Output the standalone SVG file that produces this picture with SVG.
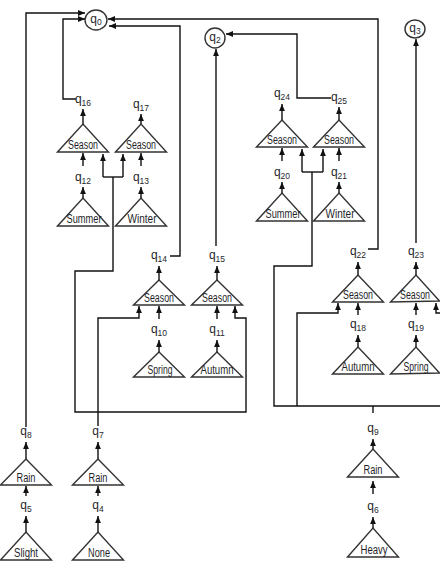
<svg xmlns="http://www.w3.org/2000/svg" width="440" height="568" viewBox="0 0 440 568">
  <defs>
    <marker id="ah" markerWidth="8" markerHeight="8" refX="7" refY="4" orient="auto" markerUnits="userSpaceOnUse">
      <path d="M0,1.1 L7,4 L0,6.9 z" fill="#111"/>
    </marker>
    <style>
      .tri { fill: #fff; stroke: #333; stroke-width: 1.4; }
      .st { fill: #fff; stroke: #333; stroke-width: 1.4; }
      .ln { fill: none; stroke: #111; stroke-width: 1.4; }
      .arr { marker-end: url(#ah); }
      .w { font-family: "Liberation Sans", Arial, sans-serif; font-size: 12.5px; fill: #1f1f2a; text-anchor: middle; }
      .q { font-family: "Liberation Sans", Arial, sans-serif; font-size: 12px; fill: #1f1f2a; text-anchor: middle; }
      .sub { font-size: 8.5px; }
    </style>
  </defs>

  <!-- connectors -->
  <g id="connectors">
    <!-- into q0 -->
    <path class="ln arr" d="M26,427 V13 H85"/>
    <path class="ln arr" d="M76,99 H63 V19 H85"/>
    <path class="ln arr" d="M170,256 H180 V26 H109"/>
    <path class="ln arr" d="M368,249 H378 V19 H108"/>
    <!-- into q2 -->
    <path class="ln arr" d="M216,246 V49"/>
    <path class="ln arr" d="M331,98 H297 V34 H226"/>
    <!-- into q3 -->
    <path class="ln arr" d="M416,243 V39"/>

    <!-- left shared input net -->
    <path class="ln" d="M103,177 H123"/>
    <path class="ln arr" d="M103,177 V154"/>
    <path class="ln arr" d="M123,177 V154"/>
    <path class="ln arr" d="M113,177 V271 H75 V412 H246 V318 H235 V306"/>
    <path class="ln arr" d="M98,426 V318 H139 V306"/>

    <!-- right shared input net -->
    <path class="ln" d="M302,172 H323"/>
    <path class="ln arr" d="M302,172 V149"/>
    <path class="ln arr" d="M323,172 V149"/>
    <path class="ln" d="M312,172 V266 H274 V406 H440"/>
    <path class="ln arr" d="M297,406 V313 H338 V303"/>
    <path class="ln arr" d="M440,313 H436 V303"/>
    <path class="ln" d="M373,406 V413"/>

    <!-- triangle apex to state label -->
    <path class="ln arr" d="M83,124 V109"/>
    <path class="ln arr" d="M141,124 V114"/>
    <path class="ln arr" d="M83,198 V187"/>
    <path class="ln arr" d="M141,198 V187"/>
    <path class="ln arr" d="M282,120 V104"/>
    <path class="ln arr" d="M339,120 V107"/>
    <path class="ln arr" d="M282,193 V182"/>
    <path class="ln arr" d="M339,193 V182"/>
    <path class="ln arr" d="M159,280 V266"/>
    <path class="ln arr" d="M217,280 V266"/>
    <path class="ln arr" d="M159,352 V340"/>
    <path class="ln arr" d="M217,352 V340"/>
    <path class="ln arr" d="M358,275 V262"/>
    <path class="ln arr" d="M416,275 V262"/>
    <path class="ln arr" d="M358,347 V335"/>
    <path class="ln arr" d="M416,347 V335"/>
    <path class="ln arr" d="M26,459 V442"/>
    <path class="ln arr" d="M26,532 V516"/>
    <path class="ln arr" d="M98,459 V442"/>
    <path class="ln arr" d="M98,532 V516"/>
    <path class="ln arr" d="M373,449 V439"/>
    <path class="ln arr" d="M373,528 V517"/>

    <!-- state label to triangle base -->
    <path class="ln arr" d="M83,166 V153"/>
    <path class="ln arr" d="M141,166 V153"/>
    <path class="ln arr" d="M282,161 V148"/>
    <path class="ln arr" d="M339,161 V148"/>
    <path class="ln arr" d="M159,319 V306"/>
    <path class="ln arr" d="M217,319 V306"/>
    <path class="ln arr" d="M358,315 V303"/>
    <path class="ln arr" d="M416,315 V303"/>
    <path class="ln arr" d="M26,496 V486"/>
    <path class="ln arr" d="M98,496 V486"/>
    <path class="ln arr" d="M373,494 V481"/>
  </g>

  <!-- final states -->
  <g id="q0"><ellipse class="st" cx="96" cy="20" rx="11" ry="10"/><text class="q" x="96" y="23">q<tspan class="sub" dy="2">0</tspan></text></g>
  <g id="q2"><ellipse class="st" cx="215" cy="38" rx="10" ry="10"/><text class="q" x="215" y="41">q<tspan class="sub" dy="2">2</tspan></text></g>
  <g id="q3"><ellipse class="st" cx="415" cy="29" rx="10" ry="9"/><text class="q" x="415" y="32">q<tspan class="sub" dy="2">3</tspan></text></g>

  <!-- state labels -->
  <g id="q16"><text class="q" x="83" y="103">q<tspan class="sub" dy="3">16</tspan></text></g>
  <g id="q17"><text class="q" x="141" y="108">q<tspan class="sub" dy="3">17</tspan></text></g>
  <g id="q12"><text class="q" x="83" y="181">q<tspan class="sub" dy="3">12</tspan></text></g>
  <g id="q13"><text class="q" x="141" y="181">q<tspan class="sub" dy="3">13</tspan></text></g>
  <g id="q24"><text class="q" x="282" y="97">q<tspan class="sub" dy="3">24</tspan></text></g>
  <g id="q25"><text class="q" x="339" y="101">q<tspan class="sub" dy="3">25</tspan></text></g>
  <g id="q20"><text class="q" x="282" y="176">q<tspan class="sub" dy="3">20</tspan></text></g>
  <g id="q21"><text class="q" x="339" y="176">q<tspan class="sub" dy="3">21</tspan></text></g>
  <g id="q14"><text class="q" x="159" y="259">q<tspan class="sub" dy="3">14</tspan></text></g>
  <g id="q15"><text class="q" x="217" y="259">q<tspan class="sub" dy="3">15</tspan></text></g>
  <g id="q10"><text class="q" x="159" y="333">q<tspan class="sub" dy="3">10</tspan></text></g>
  <g id="q11"><text class="q" x="217" y="333">q<tspan class="sub" dy="3">11</tspan></text></g>
  <g id="q22"><text class="q" x="358" y="255">q<tspan class="sub" dy="3">22</tspan></text></g>
  <g id="q23"><text class="q" x="416" y="255">q<tspan class="sub" dy="3">23</tspan></text></g>
  <g id="q18"><text class="q" x="358" y="328">q<tspan class="sub" dy="3">18</tspan></text></g>
  <g id="q19"><text class="q" x="416" y="328">q<tspan class="sub" dy="3">19</tspan></text></g>
  <g id="q8"><text class="q" x="26" y="435">q<tspan class="sub" dy="3">8</tspan></text></g>
  <g id="q5"><text class="q" x="26" y="509">q<tspan class="sub" dy="3">5</tspan></text></g>
  <g id="q7"><text class="q" x="98" y="435">q<tspan class="sub" dy="3">7</tspan></text></g>
  <g id="q4"><text class="q" x="98" y="509">q<tspan class="sub" dy="3">4</tspan></text></g>
  <g id="q9"><text class="q" x="373" y="432">q<tspan class="sub" dy="3">9</tspan></text></g>
  <g id="q6"><text class="q" x="373" y="510">q<tspan class="sub" dy="3">6</tspan></text></g>

  <!-- symbol triangles -->
  <g id="season16"><polygon class="tri" points="57.5,152 83,124 108.5,152"/><text class="w" x="83" y="149" textLength="30" lengthAdjust="spacingAndGlyphs">Season</text></g>
  <g id="season17"><polygon class="tri" points="115.5,152 141,124 166.5,152"/><text class="w" x="141" y="149" textLength="30" lengthAdjust="spacingAndGlyphs">Season</text></g>
  <g id="summer12"><polygon class="tri" points="57.5,226 83,198 108.5,226"/><text class="w" x="84" y="223" textLength="35" lengthAdjust="spacingAndGlyphs">Summer</text></g>
  <g id="winter13"><polygon class="tri" points="115.5,226 141,198 166.5,226"/><text class="w" x="142" y="223" textLength="29" lengthAdjust="spacingAndGlyphs">Winter</text></g>
  <g id="season24"><polygon class="tri" points="256.5,147 282,120 307.5,147"/><text class="w" x="282" y="144" textLength="30" lengthAdjust="spacingAndGlyphs">Season</text></g>
  <g id="season25"><polygon class="tri" points="313.5,147 339,120 364.5,147"/><text class="w" x="339" y="144" textLength="30" lengthAdjust="spacingAndGlyphs">Season</text></g>
  <g id="summer20"><polygon class="tri" points="256.5,221 282,193 307.5,221"/><text class="w" x="283" y="218" textLength="35" lengthAdjust="spacingAndGlyphs">Summer</text></g>
  <g id="winter21"><polygon class="tri" points="313.5,221 339,193 364.5,221"/><text class="w" x="340" y="218" textLength="29" lengthAdjust="spacingAndGlyphs">Winter</text></g>
  <g id="season14"><polygon class="tri" points="133.5,305 159,280 184.5,305"/><text class="w" x="159" y="302" textLength="30" lengthAdjust="spacingAndGlyphs">Season</text></g>
  <g id="season15"><polygon class="tri" points="191.5,305 217,280 242.5,305"/><text class="w" x="217" y="302" textLength="30" lengthAdjust="spacingAndGlyphs">Season</text></g>
  <g id="spring10"><polygon class="tri" points="133.5,377 159,352 184.5,377"/><text class="w" x="160" y="374" textLength="25" lengthAdjust="spacingAndGlyphs">Spring</text></g>
  <g id="autumn11"><polygon class="tri" points="191.5,377 217,352 242.5,377"/><text class="w" x="217" y="374" textLength="33" lengthAdjust="spacingAndGlyphs">Autumn</text></g>
  <g id="season22"><polygon class="tri" points="332.5,302 358,275 383.5,302"/><text class="w" x="358" y="299" textLength="30" lengthAdjust="spacingAndGlyphs">Season</text></g>
  <g id="season23"><polygon class="tri" points="390.5,302 416,275 439.5,301"/><text class="w" x="415" y="299" textLength="30" lengthAdjust="spacingAndGlyphs">Season</text></g>
  <g id="autumn18"><polygon class="tri" points="332.5,374 358,347 383.5,374"/><text class="w" x="358" y="371" textLength="33" lengthAdjust="spacingAndGlyphs">Autumn</text></g>
  <g id="spring19"><polygon class="tri" points="390.5,374 416,347 439.5,373"/><text class="w" x="416" y="371" textLength="25" lengthAdjust="spacingAndGlyphs">Spring</text></g>
  <g id="rain8"><polygon class="tri" points="0.5,485 26,459 51.5,485"/><text class="w" x="26" y="482" textLength="19" lengthAdjust="spacingAndGlyphs">Rain</text></g>
  <g id="slight5"><polygon class="tri" points="0.5,560 26,532 51.5,560"/><text class="w" x="26" y="557" textLength="24" lengthAdjust="spacingAndGlyphs">Slight</text></g>
  <g id="rain7"><polygon class="tri" points="72.5,485 98,459 123.5,485"/><text class="w" x="98" y="482" textLength="19" lengthAdjust="spacingAndGlyphs">Rain</text></g>
  <g id="none4"><polygon class="tri" points="72.5,560 98,532 123.5,560"/><text class="w" x="99" y="557" textLength="22" lengthAdjust="spacingAndGlyphs">None</text></g>
  <g id="rain9"><polygon class="tri" points="347.5,477 373,449 398.5,477"/><text class="w" x="373" y="474" textLength="19" lengthAdjust="spacingAndGlyphs">Rain</text></g>
  <g id="heavy6"><polygon class="tri" points="347.5,557 373,528 398.5,557"/><text class="w" x="374" y="554" textLength="27" lengthAdjust="spacingAndGlyphs">Heavy</text></g>
</svg>
